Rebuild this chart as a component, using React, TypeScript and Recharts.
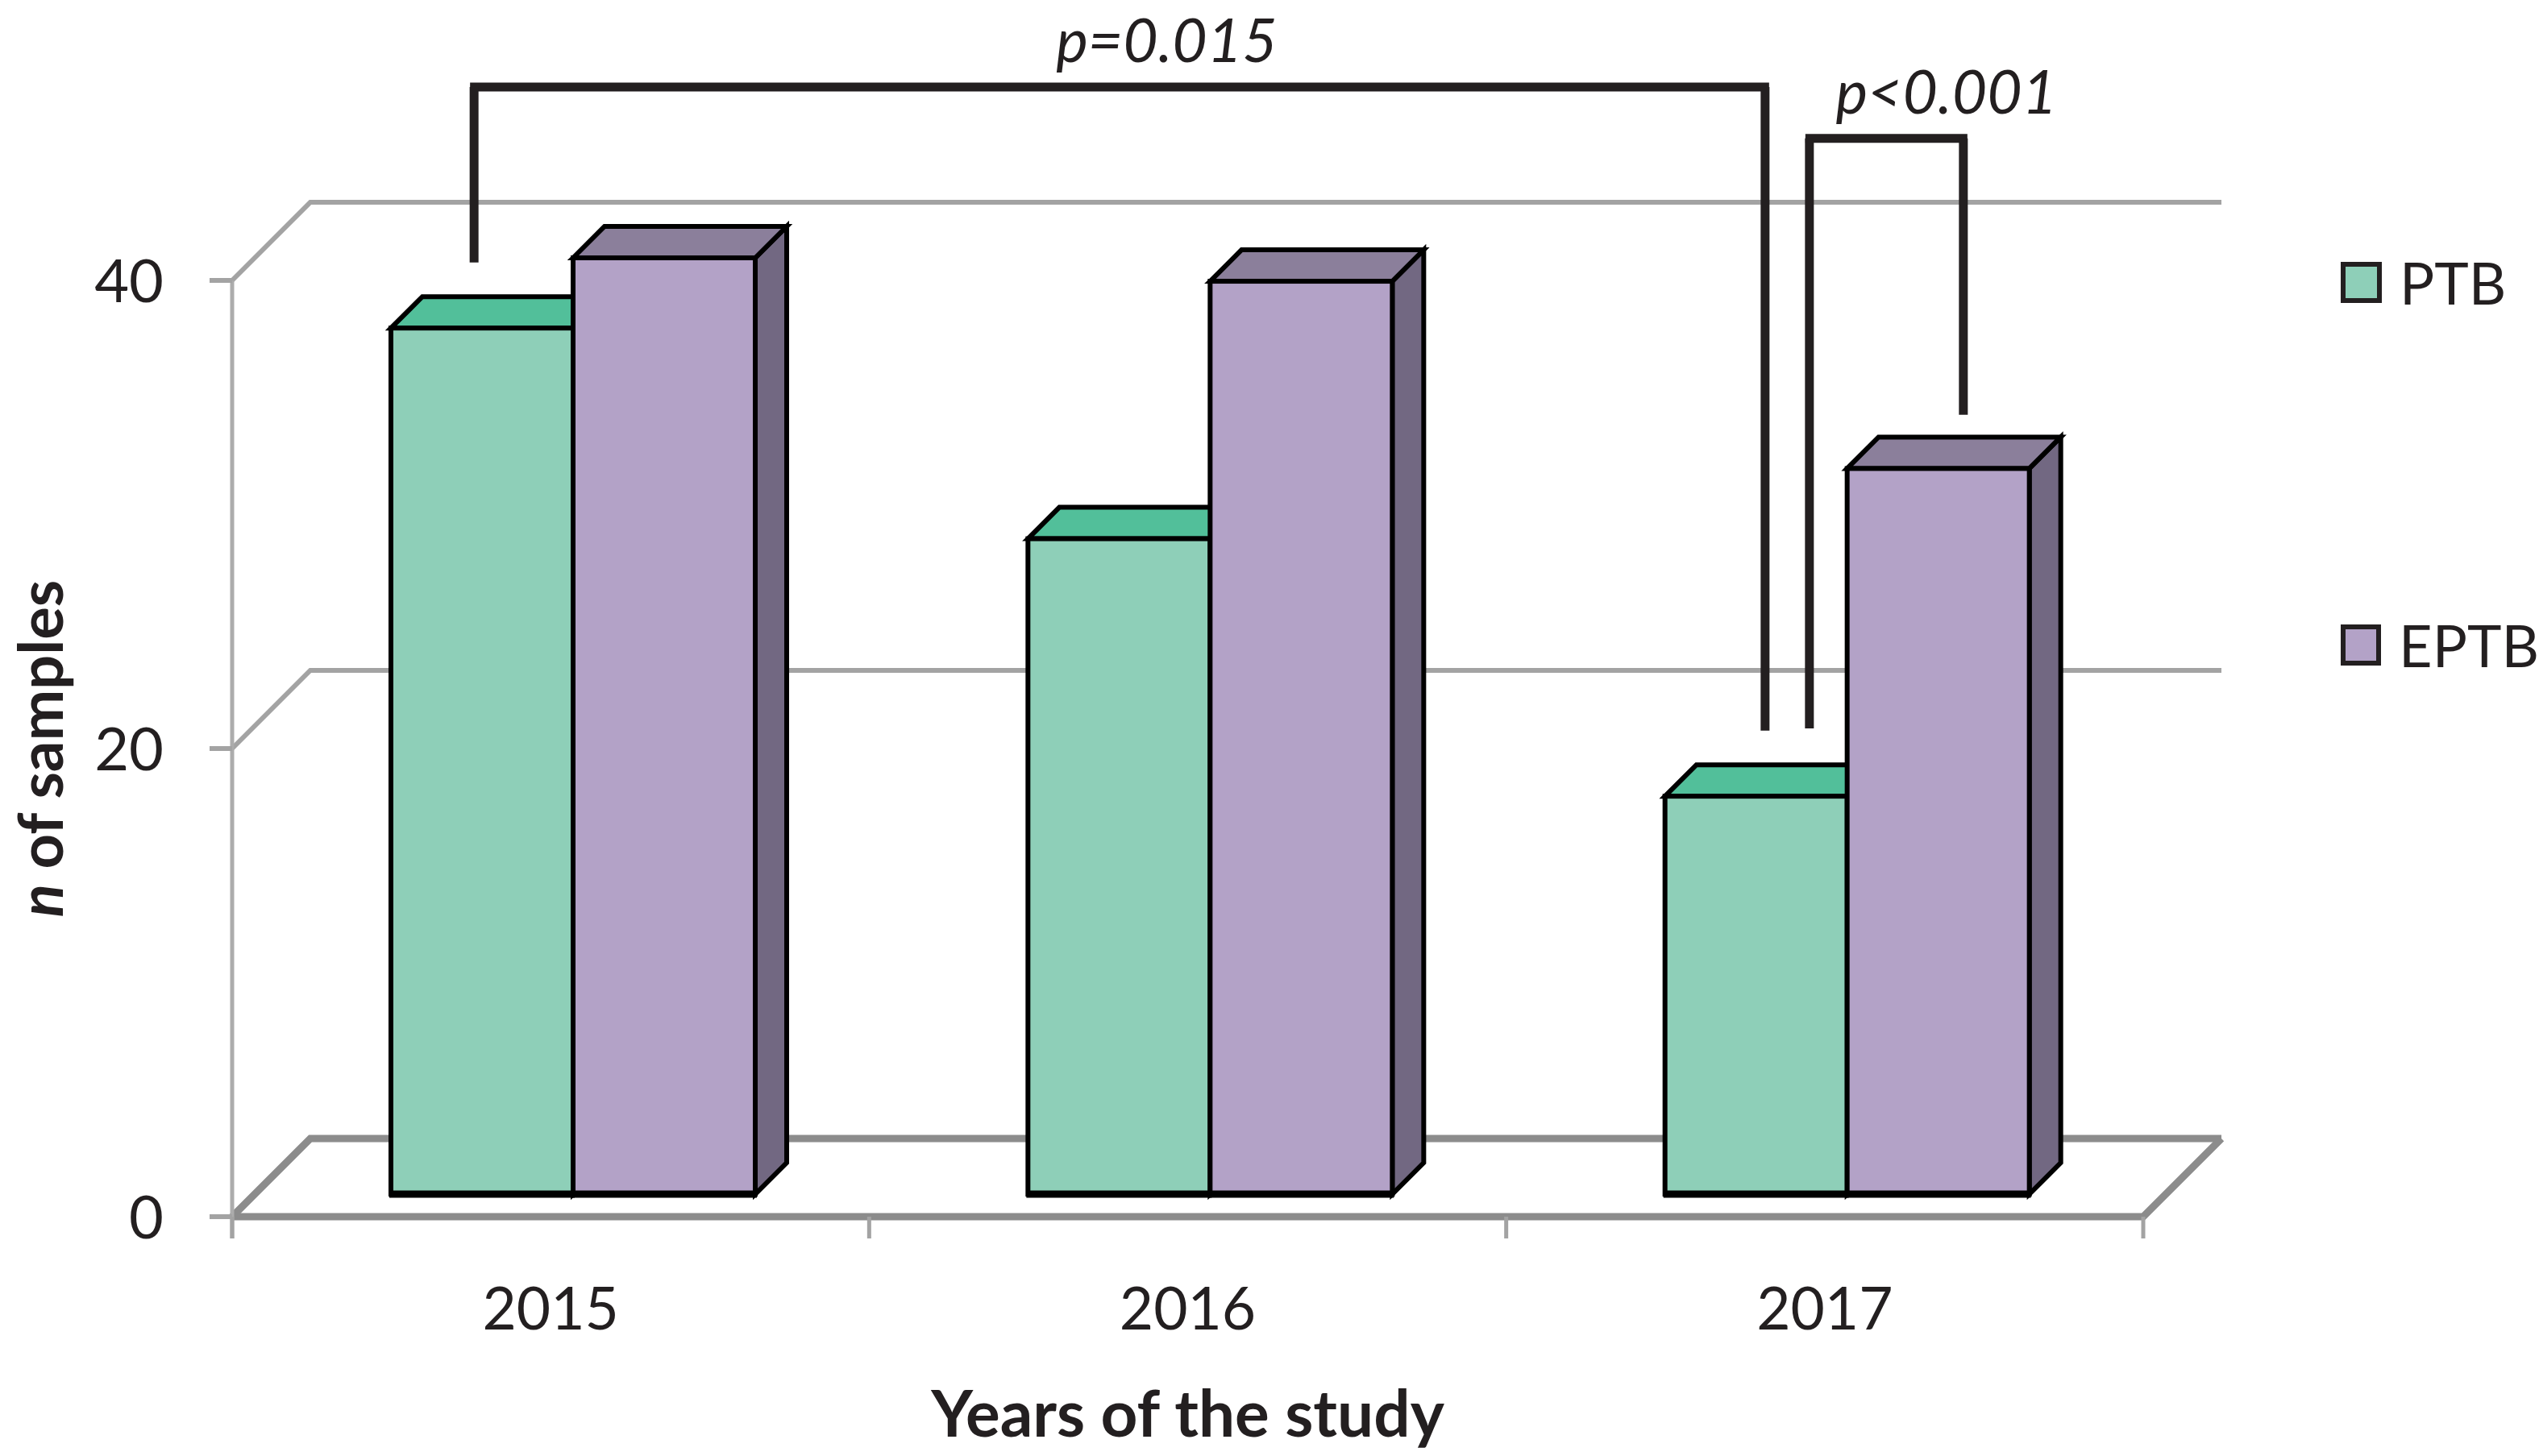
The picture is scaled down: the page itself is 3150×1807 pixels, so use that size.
import { BarChart, Bar, XAxis, YAxis, CartesianGrid, Legend, ReferenceLine } from 'recharts'

const YEARS = ['2015', '2016', '2017']
const PTB = [37, 28, 17]
const EPTB = [40, 39, 31]
const Y_TICKS = [0, 20, 40]
const SERIES_NAMES = ['PTB', 'EPTB']

// significance brackets (values in chart units)
const BRACKET_LABELS = ['p=0.015', 'p<0.001']
const BRACKET_FROM = ['2015', '2017']
const BRACKET_TO = ['2017', '2017']
const BRACKET_TOP = [47.3, 45.1]
const BRACKET_FROM_END = [39.8, 19.9]
const BRACKET_TO_END = [19.8, 33.3]

const data = YEARS.map((year, i) => ({ year, PTB: PTB[i], EPTB: EPTB[i] }))

// layout / style
const W = 3150
const H = 1807
const Y_AXIS_W = 100
const X_AXIS_H = 100
const MARGIN = { top: 320, right: 463, bottom: 225, left: 216 }
const PLOT_LEFT = MARGIN.left + Y_AXIS_W
const PLOT_RIGHT = W - MARGIN.right
const PLOT_TOP = MARGIN.top
const PLOT_BOTTOM = H - MARGIN.bottom - X_AXIS_H
const BAND = (PLOT_RIGHT - PLOT_LEFT) / YEARS.length
const FRONT = 28 // bar plane -> front wall, along the 45deg depth axis
const BACK = 69 // bar plane -> back wall
const DEPTH = 39 // depth of a bar
const INK = '#231f20'
const GRID = '#a3a3a3'
const FONT = 'Lato, "Open Sans", sans-serif'
const COLORS: Record<string, { front: string; top: string; side: string }> = {
  PTB: { front: '#8ecfb8', top: '#52bf9a', side: '#47a886' },
  EPTB: { front: '#b3a2c7', top: '#8b7f9b', side: '#726882' },
}
const LEG_NUDGE = [[-123, -102], [-47, 144]]
const LABEL_NUDGE = [-54, 123]

function Box3D(props: any) {
  const { x, y, width: w, height: h, name } = props
  if (w == null || h == null) return null
  const c = COLORS[name] ?? COLORS.PTB
  const d = DEPTH
  return (
    <g stroke="#000" strokeWidth={6} strokeLinejoin="miter">
      <polygon points={`${x + w},${y} ${x + w + d},${y - d} ${x + w + d},${y + h - d} ${x + w},${y + h}`} fill={c.side} />
      <polygon points={`${x},${y} ${x + d},${y - d} ${x + w + d},${y - d} ${x + w},${y}`} fill={c.top} />
      <rect x={x} y={y} width={w} height={h} fill={c.front} />
      <line x1={x - 2} x2={x + w + 2} y1={y + h} y2={y + h} strokeWidth={9} />
    </g>
  )
}

function WallLine(props: any) {
  const { x1, x2, y1 } = props
  const fx = x1 - FRONT
  const fy = y1 + FRONT
  const by = y1 - BACK
  const floor = Math.abs(y1 - PLOT_BOTTOM) < 1
  const roof = Math.abs(y1 - PLOT_TOP) < 1
  const stroke = floor ? '#8c8c8c' : GRID
  const sw = floor ? 9 : 6
  return (
    <g fill="none">
      <polyline points={`${fx},${fy} ${x1 + BACK},${by} ${x2 + BACK},${by}`} stroke={stroke} strokeWidth={sw} />
      {floor && (
        <polyline points={`${fx},${fy} ${x2 - FRONT},${fy} ${x2 + BACK},${by}`} stroke={stroke} strokeWidth={sw} />
      )}
      {roof && (
        <line x1={fx} x2={fx} y1={fy} y2={PLOT_BOTTOM + FRONT + 27} stroke="#acacac" strokeWidth={5} />
      )}
    </g>
  )
}

function YearTick(props: any) {
  const { x, payload, index } = props
  const fx = x - FRONT
  const fy = PLOT_BOTTOM + FRONT
  return (
    <g>
      <line x1={fx - BAND / 2} x2={fx - BAND / 2} y1={fy} y2={fy + 27} stroke={GRID} strokeWidth={5} />
      {index === YEARS.length - 1 && (
        <line x1={fx + BAND / 2} x2={fx + BAND / 2} y1={fy} y2={fy + 27} stroke={GRID} strokeWidth={5} />
      )}
      <text x={fx} y={fy + 140} textAnchor="middle" fontSize={73} fontFamily={FONT} fill={INK}>
        {payload.value}
      </text>
    </g>
  )
}

function CountTick(props: any) {
  const { y, payload } = props
  const fx = PLOT_LEFT - FRONT
  const fy = y + FRONT
  return (
    <g>
      <line x1={fx - 28} x2={fx} y1={fy} y2={fy} stroke={GRID} strokeWidth={6} />
      <text x={fx - 85} y={fy + 27} textAnchor="end" fontSize={74} fontFamily={FONT} fill={INK}>
        {payload.value}
      </text>
    </g>
  )
}

function BracketBar(props: any) {
  const { x1, x2, y1, i } = props
  const a = x1 + LEG_NUDGE[i][0]
  const b = x2 + LEG_NUDGE[i][1]
  return (
    <g>
      <line x1={a - 5} x2={b + 5} y1={y1} y2={y1} stroke={INK} strokeWidth={11} />
      <text
        x={(x1 + x2) / 2 + LABEL_NUDGE[i]}
        y={y1 - 31}
        textAnchor="middle"
        fontSize={75}
        fontStyle="italic"
        fontFamily={FONT}
        fill={INK}
      >
        {BRACKET_LABELS[i]}
      </text>
    </g>
  )
}

function BracketLeg(props: any) {
  const { x1, y1, y2, dx } = props
  return <line x1={x1 + dx} x2={x1 + dx} y1={y1} y2={y2} stroke={INK} strokeWidth={11} />
}

function LegendBoxes() {
  return (
    <div style={{ fontFamily: FONT }}>
      {SERIES_NAMES.map((name, i) => (
        <div key={name} style={{ display: 'flex', alignItems: 'center', height: 52, marginBottom: i === 0 ? 398 : 0 }}>
          <div
            style={{
              boxSizing: 'border-box',
              width: 51,
              height: 51,
              background: COLORS[name].front,
              border: `6px solid ${INK}`,
            }}
          />
          <span style={{ marginLeft: 22, fontSize: 72, lineHeight: 1, color: INK }}>{name}</span>
        </div>
      ))}
    </div>
  )
}

function XTitle() {
  return (
    <text
      x={(PLOT_LEFT + PLOT_RIGHT) / 2 - FRONT}
      y={1783}
      textAnchor="middle"
      fontSize={80}
      fontWeight="bold"
      fontFamily={FONT}
      fill={INK}
    >
      Years of the study
    </text>
  )
}

function YTitle() {
  const cx = 78
  const cy = (PLOT_TOP + PLOT_BOTTOM) / 2 + FRONT
  return (
    <text
      x={cx}
      y={cy}
      transform={`rotate(-90, ${cx}, ${cy})`}
      textAnchor="middle"
      fontSize={76}
      fontWeight="bold"
      fontFamily={FONT}
      fill={INK}
    >
      <tspan fontStyle="italic">n</tspan>
      {' of samples'}
    </text>
  )
}

export default function App() {
  return (
    <div style={{ position: 'absolute', left: 0, top: 0, width: W, height: H, background: '#fff' }}>
      <BarChart width={W} height={H} data={data} margin={MARGIN} barSize={226} barGap={0}>
        <CartesianGrid vertical={false} horizontal={(p: any) => <WallLine {...p} />} />
        <XAxis
          dataKey="year"
          height={X_AXIS_H}
          axisLine={false}
          tickLine={false}
          tickSize={0}
          tickMargin={0}
          interval={0}
          tick={(p: any) => <YearTick {...p} />}
          label={{ content: () => <XTitle /> }}
        />
        <YAxis
          width={Y_AXIS_W}
          domain={[0, 40]}
          ticks={Y_TICKS}
          interval={0}
          axisLine={false}
          tickLine={false}
          tickSize={0}
          tickMargin={0}
          tick={(p: any) => <CountTick {...p} />}
          label={{ content: () => <YTitle /> }}
        />
        <Legend
          layout="horizontal"
          verticalAlign="middle"
          align="center"
          wrapperStyle={{ left: 2904, top: 324, width: 246 }}
          content={() => <LegendBoxes />}
        />
        {SERIES_NAMES.map((name) => (
          <Bar
            key={name}
            dataKey={name}
            name={name}
            fill={COLORS[name].front}
            isAnimationActive={false}
            shape={(p: any) => <Box3D {...p} name={name} />}
          />
        ))}
        {BRACKET_LABELS.map((_, i) => (
          <ReferenceLine
            key={`bar-${i}`}
            ifOverflow="visible"
            segment={[
              { x: BRACKET_FROM[i], y: BRACKET_TOP[i] },
              { x: BRACKET_TO[i], y: BRACKET_TOP[i] },
            ]}
            shape={(p: any) => <BracketBar {...p} i={i} />}
          />
        ))}
        {BRACKET_LABELS.map((_, i) => (
          <ReferenceLine
            key={`from-${i}`}
            ifOverflow="visible"
            segment={[
              { x: BRACKET_FROM[i], y: BRACKET_TOP[i] },
              { x: BRACKET_FROM[i], y: BRACKET_FROM_END[i] },
            ]}
            shape={(p: any) => <BracketLeg {...p} dx={LEG_NUDGE[i][0]} />}
          />
        ))}
        {BRACKET_LABELS.map((_, i) => (
          <ReferenceLine
            key={`to-${i}`}
            ifOverflow="visible"
            segment={[
              { x: BRACKET_TO[i], y: BRACKET_TOP[i] },
              { x: BRACKET_TO[i], y: BRACKET_TO_END[i] },
            ]}
            shape={(p: any) => <BracketLeg {...p} dx={LEG_NUDGE[i][1]} />}
          />
        ))}
      </BarChart>
    </div>
  )
}
